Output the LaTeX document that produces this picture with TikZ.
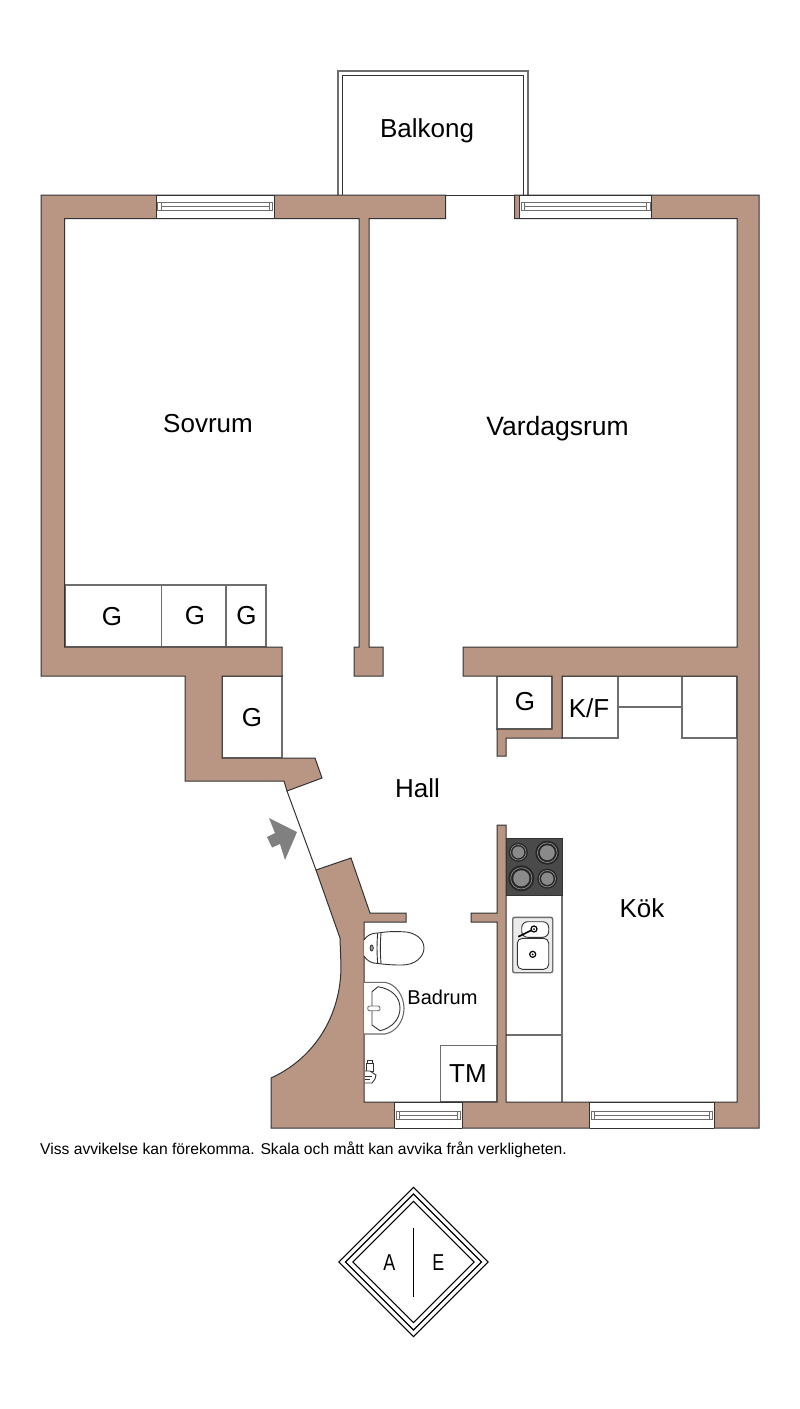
\documentclass[tikz,border=0pt]{standalone}
\usepackage{fontspec}
\usepackage{graphicx}
\setmainfont{Liberation Sans}
\definecolor{wallc}{HTML}{B99684}
\definecolor{linec}{HTML}{333333}
\definecolor{softl}{HTML}{6E6E6E}
\definecolor{hobc}{HTML}{4A4A4A}
\definecolor{burn}{HTML}{8A8A8A}
\definecolor{arrowc}{HTML}{808080}
\tikzset{
  wall/.style={fill=wallc,draw=linec,line width=1pt,line join=miter},
  unitbox/.style={draw=softl,line width=1.1pt,fill=white},
  fixture/.style={draw=linec,line width=.9pt,fill=white},
  room/.style={font=\fontsize{26}{30}\selectfont,text=black,inner sep=0pt},
  widerroom/.style={font=\fontsize{26.5}{30}\selectfont,text=black,inner sep=0pt},
  smallroom/.style={font=\fontsize{20}{24}\selectfont,text=black,inner sep=0pt},
  note/.style={font=\fontsize{15.65}{18}\selectfont,text=black,inner sep=0pt,anchor=west},
  logo/.style={draw=black,line width=1.1pt},
  logotext/.style={font=\fontsize{23}{26}\selectfont,text=black,inner sep=0pt},
}
% window: x1 x2 y1 y2
\newcommand{\winpane}[4]{%
  \pgfmathsetmacro{\wmid}{(#3+#4)/2}%
  \fill[white] (#1,#3) rectangle (#2,#4);
  \draw[linec,line width=1pt] (#1,#3) -- (#2,#3) (#1,#4) -- (#2,#4) (#1,#3) -- (#1,#4) (#2,#3) -- (#2,#4);
  \draw[softl,line width=1pt] (#1+1.5,\wmid-4) rectangle (#2-1.5,\wmid+4);
  \draw[softl,line width=1pt] (#1+5,\wmid-4) rectangle (#2-5,\wmid);
  \draw[softl,line width=1pt] (#1+5,\wmid) rectangle (#2-5,\wmid+4);
}
\newcommand{\burner}[3]{%
  \fill[black!85] (#1,#2) circle[radius=#3];
  \draw[black!45,line width=.7pt] (#1,#2) circle[radius=#3*0.82];
  \fill[burn] (#1,#2) circle[radius=#3*0.62];
}
\begin{document}
\begin{tikzpicture}[x=1pt,y=-1pt]
\useasboundingbox (0,0) rectangle (800,1409);
\fill[white] (0,0) rectangle (800,1409);

% balcony
\draw[softl,line width=1.1pt,line join=miter] (338,195) -- (338,71) -- (528,71) -- (528,195);
\draw[linec,line width=1.1pt] (342.5,195) -- (342.5,75.5) -- (523.5,75.5) -- (523.5,195);

% closets
\draw[unitbox] (65,585) rectangle (161.5,647);
\draw[unitbox] (161.5,585) rectangle (226,647);
\draw[unitbox] (226,585) rectangle (266,647);
\draw[unitbox] (222,676) rectangle (282,758);
\draw[unitbox] (497,676) rectangle (552,729);
\draw[unitbox] (562,676) rectangle (618,738);
\draw[unitbox] (618,676) rectangle (682,707);
\draw[unitbox] (682,676) rectangle (737,738);

% kitchen counter
\draw[softl,line width=1.1pt] (562,895) -- (562,1102);
\draw[softl,line width=1.1pt] (506,1035) -- (562,1035);
\draw[unitbox] (440.7,1045.7) rectangle (497,1102);

% walls
\draw[wall] (445.5,195) -- (41,195) -- (41,676) -- (185,676) -- (185,781) -- (284,781)
  -- (287,791) -- (322,778) -- (315,758) -- (222,758) -- (222,676) -- (282,676) -- (282,647)
  -- (64.5,647) -- (64.5,218.5) -- (359,218.5) -- (359,647) -- (354,647) -- (354,676) -- (383,676)
  -- (383,647) -- (369,647) -- (369,218.5) -- (445.5,218.5) -- cycle;
\draw[wall] (514.5,195) -- (759,195) -- (759,1128) -- (271,1128) -- (271,1078)
  .. controls (315,1058) and (341,1015) .. (341,966) -- (340,938) -- (316,870) -- (351,858)
  -- (370,913) -- (406,913) -- (406,922) -- (364,922) -- (364,1102) -- (497,1102) -- (497,922)
  -- (471,922) -- (471,913) -- (497,913) -- (497,825) -- (506,825) -- (506,1102) -- (737,1102)
  -- (737,676) -- (562,676) -- (562,738) -- (506,738) -- (506,756) -- (497,756) -- (497,729)
  -- (552,729) -- (552,676) -- (463,676) -- (463,647) -- (737,647) -- (737,218.5) -- (514.5,218.5) -- cycle;
% balcony door threshold
\draw[linec,line width=1pt] (445.5,195) -- (514.5,195);
% entrance door
\draw[linec,line width=1pt] (287,791) -- (316,870);
% entrance arrow
\fill[arrowc] (269,818) -- (297,832) -- (285,860) -- (280,844) -- (272,847.5) -- (267,837) -- (275,833) -- cycle;

% windows
\winpane{156}{274.3}{195}{218.5}
\winpane{519.5}{651.7}{195}{218.5}
\winpane{394.7}{462.3}{1102}{1128}
\winpane{589.7}{714}{1102}{1128}

% hob
\fill[hobc] (506.5,838.5) rectangle (562,895);
\draw[linec,line width=.8pt] (506.5,838.5) rectangle (562,895);
\burner{518.3}{852.3}{9.5}
\burner{547.3}{852.7}{12}
\burner{521.3}{878.3}{13}
\burner{547.3}{878.7}{10}

% kitchen sink
\draw[softl,fill=black!8,line width=1.4pt,rounded corners=2pt] (512.7,917.3) rectangle (552.7,972.7);
\draw[fixture,rounded corners=6pt] (521.7,921.7) rectangle (548.7,937.3);
\draw[fixture,rounded corners=5pt] (517.3,938.3) rectangle (548.7,969.3);
\draw[black,line width=1.2pt,fill=white] (532.7,954.3) circle[radius=3];
\fill[black] (532.7,954.3) circle[radius=1];
\draw[black,line width=1.6pt] (534,929) -- (518.3,936.7);
\draw[black,line width=1.2pt,fill=white] (534,929) circle[radius=3];
\fill[black] (534,929) circle[radius=1];

% toilet
\draw[fixture] (364,940) .. controls (367,935) and (372,933) .. (378,933)
  .. controls (390,931) and (396,931.7) .. (402,931.7) .. controls (415,931.7) and (424,939) .. (424,948)
  .. controls (424,957) and (415,965) .. (402,965) .. controls (396,965) and (390,965) .. (378,963.5)
  .. controls (372,963.5) and (367,961) .. (364,956);
\draw[linec,line width=.9pt] (377.7,933.3) .. controls (376.8,943) and (376.8,953) .. (377.7,963.3);
\draw[linec,line width=.9pt] (381,933) .. controls (380.2,943) and (380.2,953) .. (381,963.6);
\draw[linec,fill=black!40,line width=.8pt] (371.7,948) ellipse[x radius=1.6,y radius=3];

% wash basin
\draw[softl,fill=white,line width=1.1pt] (364,982.3) -- (385,982.3)
  .. controls (396,984) and (404,996) .. (404,1008.3)
  .. controls (404,1021) and (396,1032) .. (385,1034) -- (364,1034);
\draw[linec,line width=.9pt] (378,986.7) -- (372,991.7) -- (372,1025) -- (380,1030.7)
  .. controls (392,1028) and (400,1019) .. (400,1008.3)
  .. controls (400,997) and (392,989) .. (378,986.7) -- cycle;
\draw[softl,fill=white,line width=.9pt,rounded corners=2pt] (367.7,1006) rectangle (380,1010.7);

% bath tap
\draw[fixture] (367,1060) rectangle (372,1063);
\draw[fixture] (366,1063) rectangle (373,1071);
\draw[fixture] (365,1071) -- (370,1071) -- (376,1075) -- (375,1079) -- (372,1083) -- (365,1083);
\draw[linec,line width=1pt] (365,1076) -- (372,1076) (365,1079) -- (370,1079);

% texts
\node[room] (balkong) at (427,131) {Balkong};
\node[room] (sovrum) at (208,424) {Sovrum};
\node[widerroom] (vardagsrum) at (557.5,429) {Vardagsrum};
\node[room] (hall) at (417.5,788) {Hall};
\node[room] (kok) at (642,908) {Kök};
\node[smallroom] (badrum) at (442.5,997) {Badrum};
\node[room] (g1) at (112,617) {G};
\node[room] (g2) at (195,616) {G};
\node[room] (g3) at (246.5,616) {G};
\node[room] (g4) at (252,718) {G};
\node[room] (g5) at (525,702) {G};
\node[room] (kf) at (589,708) {K/F};
\node[room] (tm) at (468,1074) {TM};
\node[note] (disclaimer) at (40,1149.5) {Viss avvikelse kan förekomma. Skala och mått kan avvika från verkligheten.};

% logo
\draw[logo] (413.5,1187.3) -- (488.2,1262) -- (413.5,1336.7) -- (338.8,1262) -- cycle;
\draw[logo] (413.5,1194) -- (481.5,1262) -- (413.5,1330) -- (345.5,1262) -- cycle;
\draw[logo] (413.5,1201.3) -- (474.2,1262) -- (413.5,1322.7) -- (352.8,1262) -- cycle;
\draw[black,line width=1.5pt] (413.5,1227.7) -- (413.5,1296.7);
\node[logotext] (logoa) at (389.3,1262.3) {\scalebox{0.78}[1]{A}};
\node[logotext] (logoe) at (438.3,1262.3) {\scalebox{0.78}[1]{E}};
\end{tikzpicture}
\end{document}
